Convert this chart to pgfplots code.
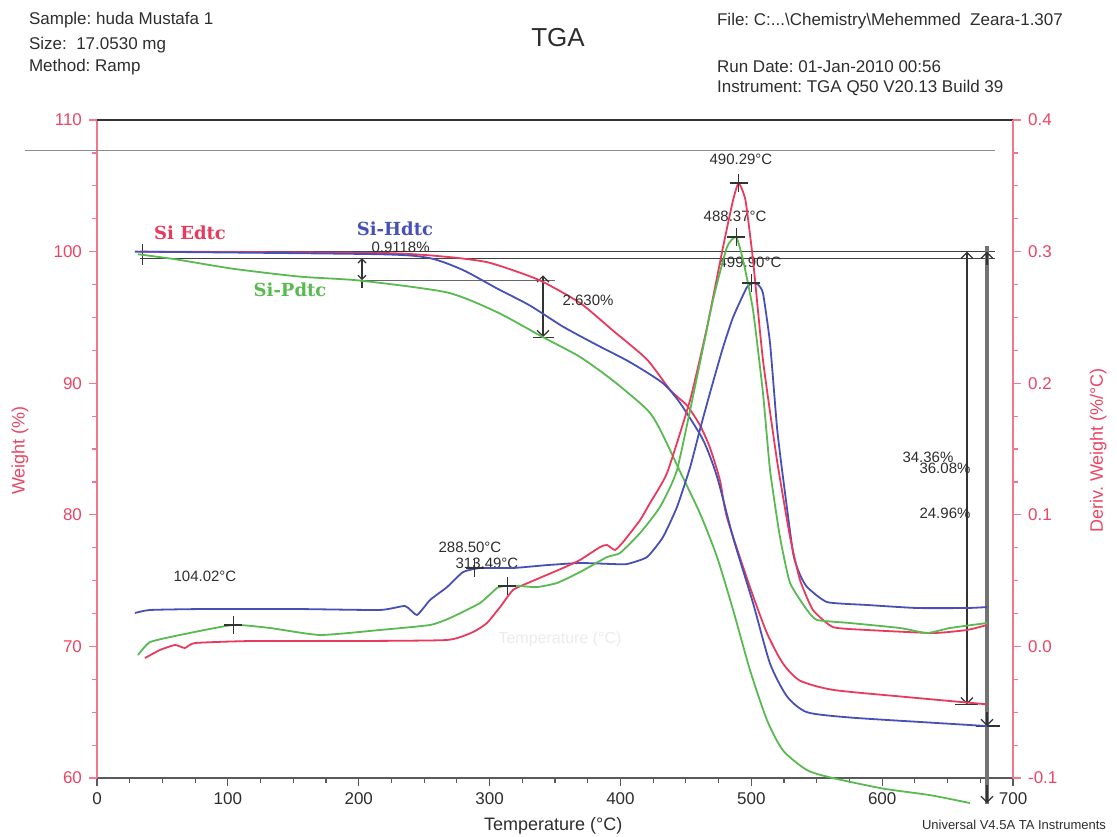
\documentclass[border=0pt]{standalone}
\usepackage{pgfplots}
\pgfplotsset{compat=1.18}
\usepackage{fontspec}
\setmainfont{Liberation Sans}
\newfontfamily\labfont{DejaVu Serif}
\usetikzlibrary{arrows.meta}
\frenchspacing

\definecolor{tgared}{RGB}{232,58,92}
\definecolor{tgablue}{RGB}{70,80,182}
\definecolor{tgagreen}{RGB}{88,186,80}
\definecolor{axred}{RGB}{240,120,140}
\definecolor{labred}{RGB}{232,70,100}
\definecolor{txt}{RGB}{45,45,45}

\newcommand{\fs}[1]{\fontsize{#1}{#1}\selectfont}

\begin{document}
\begin{tikzpicture}
% weight axis (left)
\begin{axis}[
  width=458pt, height=329pt, scale only axis,
  xmin=0, xmax=700, ymin=60, ymax=110,
  clip=false,
  axis x line*=bottom, axis y line*=left,
  x axis line style={-, black!65, line width=1.1pt},
  y axis line style={-, axred, line width=0.8pt},
  xtick={0,100,...,700}, ytick={60,70,...,110},
  minor x tick num=3, minor y tick num=3,
  tick align=outside,
  major tick length=4pt, minor tick length=2.5pt,
  xtick style={black!65, line width=0.6pt},
  ytick style={axred, line width=0.6pt},
  /pgf/number format/assume math mode=true,
  xticklabel style={font=\fs{8.5}, text=txt},
  yticklabel style={font=\fs{8.5}, text=labred},
  xlabel={Temperature (°C)},
  xlabel style={font=\fs{9}, text=txt, at={(axis description cs:0.498,-0.073)}, anchor=center},
  ylabel={Weight (\%)},
  ylabel style={font=\fs{9}, text=labred, at={(axis description cs:-0.084,0.498)}, anchor=center},
]
\coordinate (bbll) at (rel axis cs:-0.1059,-0.0881);
\coordinate (bbur) at (rel axis cs:1.1135,1.1824);

% reference lines and step markers
\draw[black!45, line width=0.6pt] (-55,107.7) -- (686,107.7);
\draw[black!80, line width=0.7pt] (0,110) -- (700,110);
\draw[black!75, line width=0.6pt] (33,100) -- (686,100);
\draw[black!75, line width=0.6pt] (33,99.5) -- (686,99.5);
\draw[black!60, line width=0.5pt] (201,97.84) -- (350,97.84);
\draw[black!80, line width=0.6pt] (35,100.6) -- (35,99.0);
\draw[black!80, line width=0.6pt, {Straight Barb[length=2pt]}-{Straight Barb[length=2pt]}] (202.5,99.5) -- (202.5,97.84);
\draw[black!80, line width=0.6pt] (202.5,97.84) -- (202.5,97.2);
\draw[black!80, line width=0.6pt, {Straight Barb[length=3pt]}-{Straight Barb[length=3pt]}] (340.8,98.2) -- (340.8,93.5);
\draw[black!80, line width=0.6pt] (333,93.5) -- (349,93.5);
\draw[black!80, line width=0.6pt, {Straight Barb[length=3pt]}-{Straight Barb[length=3pt]}] (664.8,100.0) -- (664.8,65.6);
\draw[black!80, line width=0.6pt] (656,65.6) -- (673,65.6);
\draw[black!55, line width=1.6pt] (680.1,100.4) -- (680.1,58.0);
\draw[black!80, line width=0.6pt, -{Straight Barb[length=3pt]}] (680.1,65) -- (680.1,63.95);
\draw[black!80, line width=0.6pt, -{Straight Barb[length=3pt]}] (680.1,99.0) -- (680.1,100.0);
\draw[black!80, line width=0.6pt] (672,63.95) -- (690,63.95);
\draw[black!80, line width=0.6pt, -{Straight Barb[length=3pt]}] (680.1,59.5) -- (680.1,58.1);

% weight curves
\addplot[tgared, line width=0.9pt, smooth, tension=0.4] coordinates {
(33,100.0) (216.3,99.9) (267.5,99.6) (298.0,99.2) (323.2,98.4) (340.8,97.7)
(369.1,96.1) (394.3,94.0) (420.3,91.8) (437.9,89.5) (450.9,88.3) (460.8,86.8)
(468.4,85.1) (476.1,82.6) (481.4,79.8) (499.0,74.5) (512.0,71.0) (524.2,68.7)
(537.2,67.4) (562.4,66.7) (613.6,66.2) (680.1,65.6)};
\addplot[tgablue, line width=0.9pt, smooth, tension=0.4] coordinates {
(29.0,100.0) (216.3,99.8) (254.5,99.5) (279.7,98.6) (305.7,97.2) (330.9,95.9)
(356.1,94.3) (382.1,92.9) (407.3,91.6) (432.5,90.0) (445.5,88.5) (463.1,85.7)
(473.8,82.9) (486.0,78.3) (501.3,73.3) (514.3,68.7) (527.3,66.2) (542.6,65.0)
(575.4,64.6) (638.9,64.2) (680.1,63.95)};
\addplot[tgagreen, line width=0.9pt, smooth, tension=0.4] coordinates {
(31.3,99.8) (61.1,99.4) (103.9,98.7) (155.1,98.1) (201.0,97.8) (267.5,96.9)
(305.7,95.4) (340.8,93.5) (369.1,92.0) (394.3,90.2) (420.3,88.0) (430.2,86.5)
(445.5,83.3) (460.8,80.1) (473.8,76.8) (486.0,72.8) (499.0,68.2) (512.0,64.4)
(524.2,62.1) (542.6,60.6) (562.4,60.0) (600.7,59.2) (636.6,58.7) (667.1,58.1)};

% texts
\node[font=\fs{7.5}, text=txt] at (232,100.35) {0.9118\%};
\node[font=\fs{7.5}, text=txt] at (375.2,96.3) {2.630\%};
\node[font=\fs{7.5}, text=txt] at (635,84.4) {34.36\%};
\node[font=\fs{7.5}, text=txt] at (648,83.5) {36.08\%};
\node[font=\fs{7.5}, text=txt] at (648,80.1) {24.96\%};
\node[font=\fs{7.5}, text=txt] at (492.1,107.0) {490.29°C};
\node[font=\fs{7.5}, text=txt] at (487.6,102.7) {488.37°C};
\node[font=\fs{7.5}, text=txt] at (499.0,99.2) {499.90°C};
\node[font=\fs{7.5}, text=txt] at (285.0,77.5) {288.50°C};
\node[font=\fs{7.5}, text=txt] at (298.0,76.3) {313.49°C};
\node[font=\fs{7.5}, text=txt] at (82.5,75.3) {104.02°C};
\node[font=\labfont\bfseries\fs{9}, text=tgared] at (71.1,101.4) {Si Edtc};
\node[font=\labfont\bfseries\fs{9}, text=tgablue] at (227.7,101.75) {Si-Hdtc};
\node[font=\labfont\bfseries\fs{9}, text=tgagreen] at (147.5,97.1) {Si-Pdtc};
\node[font=\fs{8}, text=black!8] at (353.8,70.5) {Temperature (°C)};

% header
\node[font=\fs{8.5}, text=txt, anchor=west] at (axis description cs:-0.0819,1.1520) {Sample: huda Mustafa 1};
\node[font=\fs{8.5}, text=txt, anchor=west] at (axis description cs:-0.0819,1.1140) {Size:\ \ 17.0530 mg};
\node[font=\fs{8.5}, text=txt, anchor=west] at (axis description cs:-0.0819,1.0805) {Method: Ramp};
\node[font=\fs{13}, text=txt] at (axis description cs:0.5033,1.1246) {TGA};
\node[font=\fs{8.5}, text=txt, anchor=west] at (axis description cs:0.6692,1.1505) {File: C:...\textbackslash Chemistry\textbackslash Mehemmed\ \ Zeara-1.307};
\node[font=\fs{8.5}, text=txt, anchor=west] at (axis description cs:0.6692,1.0805) {Run Date: 01-Jan-2010 00:56};
\node[font=\fs{8.5}, text=txt, anchor=west] at (axis description cs:0.6692,1.0486) {Instrument: TGA Q50 V20.13 Build 39};
\node[font=\fs{6.5}, text=txt, anchor=east] at (axis description cs:1.1092,-0.0714) {Universal V4.5A TA Instruments};
\end{axis}

% derivative axis (right)
\begin{axis}[
  width=458pt, height=329pt, scale only axis,
  xmin=0, xmax=700, ymin=-0.1, ymax=0.4,
  clip=false,
  axis x line=none, axis y line*=right,
  y axis line style={-, axred, line width=0.8pt},
  ytick={-0.1,0,0.1,0.2,0.3,0.4},
  minor y tick num=3,
  tick align=outside,
  major tick length=4pt, minor tick length=2.5pt,
  ytick style={axred, line width=0.6pt},
  /pgf/number format/assume math mode=true,
  yticklabel style={font=\fs{8.5}, text=labred, /pgf/number format/.cd, fixed, fixed zerofill, precision=1},
  ylabel={Deriv. Weight (\%/°C)},
  ylabel style={font=\fs{9}, text=labred, at={(axis description cs:1.093,0.498)}, anchor=center},
]
\addplot[tgablue, line width=0.9pt, smooth, tension=0.3] coordinates {
(29.0,0.0254) (40.5,0.0277) (78.7,0.0284) (155.1,0.0284) (216.3,0.0277)
(235.4,0.0307) (244.5,0.0239) (254.5,0.0353) (267.5,0.0451) (279.7,0.0565)
(292.7,0.0596) (317.9,0.0596) (343.9,0.0618) (369.1,0.0634) (394.3,0.0626)
(405.0,0.0626) (420.3,0.0679) (432.5,0.0831) (443.2,0.1059) (453.2,0.1360)
(460.8,0.165) (468.4,0.1926) (478,0.226) (486.0,0.2500) (496.7,0.2731)
(501.3,0.2761) (505,0.275) (508.9,0.2685) (514.3,0.2305) (519.6,0.1667)
(523.5,0.1340) (531.9,0.0710) (537,0.055) (542.6,0.0451) (557.9,0.0337)
(588.4,0.0315) (626.6,0.0292) (664.8,0.0292) (680.1,0.0299)};
\addplot[tgared, line width=0.9pt, smooth, tension=0.3] coordinates {
(36.7,-0.0088) (48.1,-0.0027) (59.6,0.0011) (67.2,-0.0012) (74.9,0.0026)
(116.9,0.0041) (193.3,0.0041) (267.5,0.0049) (287.3,0.0109) (298.0,0.0178)
(308.0,0.0299) (317.9,0.0429) (330.9,0.0489) (356.1,0.0596) (369.1,0.0657)
(384.4,0.0755) (389.7,0.0771) (395.8,0.0733) (402.0,0.0793) (415.0,0.0960)
(422.6,0.1090) (435.6,0.1318) (453.2,0.1872) (466.2,0.2427) (478.4,0.3035)
(486.0,0.3389) (490.3,0.3521) (495.5,0.3392) (501.3,0.2936) (508.9,0.2176)
(519.6,0.1416) (529.6,0.0831) (537.2,0.0505) (547.1,0.0277) (562.4,0.0147)
(588.4,0.0125) (638.9,0.0102) (664.8,0.0125) (680.1,0.0163)};
\addplot[tgagreen, line width=0.9pt, smooth, tension=0.3] coordinates {
(31.3,-0.0065) (40.5,0.0033) (63.4,0.0087) (103.9,0.0163) (132.2,0.0140)
(170.4,0.0087) (216.3,0.0125) (254.5,0.0163) (269.8,0.0216) (292.7,0.0330)
(305.7,0.0444) (311.8,0.0459) (323.2,0.0459) (336.2,0.0451) (351.5,0.0482)
(369.1,0.0565) (389.7,0.0679) (399.7,0.0710) (415.0,0.0862) (430.2,0.1059)
(443.2,0.1340) (458.5,0.2047) (470.7,0.2632) (481.4,0.3035) (488.4,0.3111)
(493.7,0.2936) (501.3,0.2556) (508.9,0.1926) (514.3,0.1340) (521.9,0.0831)
(529.6,0.0482) (542.6,0.0277) (550.2,0.0201) (575.4,0.0178) (613.6,0.0140)
(634.3,0.0102) (651.8,0.0140) (680.1,0.0178)};
% peak markers
\addplot[only marks, mark=+, mark size=4.5pt, black!80, mark options={line width=0.6pt}] coordinates {
(490.3,0.3521) (488.4,0.3111) (499.9,0.2761) (288.5,0.0596) (313.5,0.0459) (104.0,0.0163)};
\end{axis}
\pgfresetboundingbox
\path[use as bounding box] (bbll) rectangle (bbur);
\end{tikzpicture}
\end{document}
